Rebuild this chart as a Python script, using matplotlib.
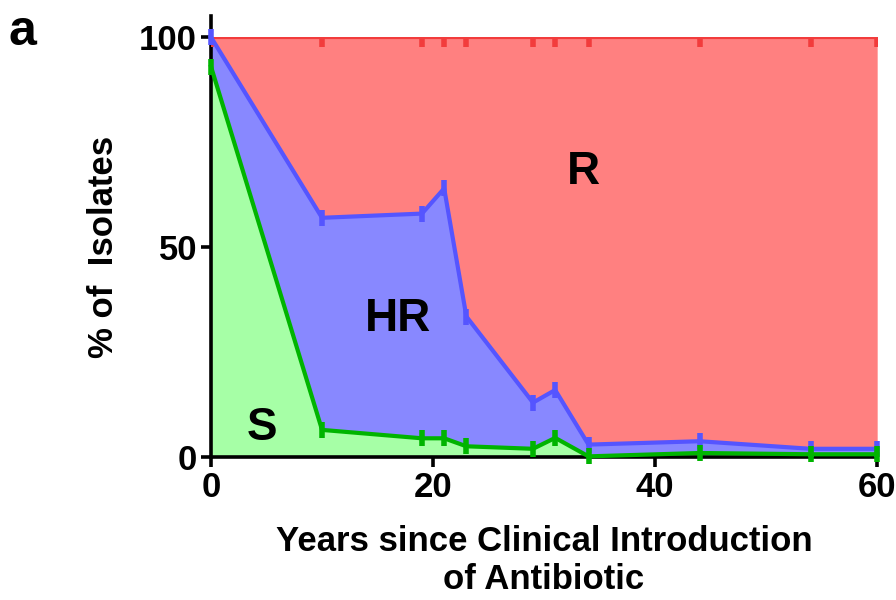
import matplotlib
matplotlib.use("Agg")
import matplotlib.pyplot as plt

plt.rcParams["font.family"] = ["Liberation Sans", "DejaVu Sans"]
plt.rcParams["font.weight"] = "bold"

years = [0, 10, 19, 21, 23, 29, 31, 34, 44, 54, 60]
s_pct = [93, 6.5, 4.5, 4.5, 2.6, 2.0, 4.6, 0.2, 1.0, 0.7, 0.7]
s_hr_pct = [100, 57, 58, 64, 33.5, 13, 16, 3, 3.8, 2, 2]
total_pct = [100] * len(years)

C_RED_F, C_RED_L = "#ff8080", "#f23c3c"
C_BLU_F, C_BLU_L = "#8888ff", "#5555ff"
C_GRN_F, C_GRN_L = "#a6ffa6", "#00b400"

fig = plt.figure(figsize=(8.96, 6.0), dpi=100)
ax = fig.add_axes([0.2355, 0.238, 0.7435, 0.70])

ax.fill_between(years, s_hr_pct, total_pct, color=C_RED_F, lw=0)
ax.fill_between(years, s_pct, s_hr_pct, color=C_BLU_F, lw=0)
ax.fill_between(years, 0, s_pct, color=C_GRN_F, lw=0)

mk = dict(marker="|", ms=12, mew=4)
ax.plot(years, total_pct, color=C_RED_L, lw=3, marker="|", ms=14, mew=4,
        clip_on=True, zorder=3)
ax.plot(years, s_hr_pct, color=C_BLU_L, lw=3, **mk, clip_on=False, zorder=4)
ax.plot(years, s_pct, color=C_GRN_L, lw=3, **mk, clip_on=False, zorder=5)

ax.set_xlim(0, 60)
ax.set_ylim(0, 100)
ax.spines["top"].set_visible(False)
ax.spines["right"].set_visible(False)
for sp in ("left", "bottom"):
    ax.spines[sp].set_linewidth(2.6)
ax.spines["left"].set_bounds(0, 105)
ax.set_xticks([0, 20, 40, 60])
ax.set_yticks([0, 50, 100])
ax.tick_params(width=2.6, length=7, labelsize=25, pad=3)
for lab in ax.get_xticklabels() + ax.get_yticklabels():
    lab.set_fontweight("bold")

ax.set_xlabel("Years since Clinical Introduction\nof Antibiotic",
              fontsize=25, fontweight="bold", labelpad=15, linespacing=1.2)
ax.set_ylabel("% of  Isolates", fontsize=25, fontweight="bold", labelpad=14)

ax.text(33.5, 68, "R", fontsize=33, fontweight="bold", ha="center", va="center")
ax.text(16.8, 33, "HR", fontsize=33, fontweight="bold", ha="center", va="center")
ax.text(4.6, 7, "S", fontsize=33, fontweight="bold", ha="center", va="center")

fig.text(0.010, 0.985, "a", fontsize=36, fontweight="bold", va="top", ha="left")

fig.savefig("out.png", dpi=100)
